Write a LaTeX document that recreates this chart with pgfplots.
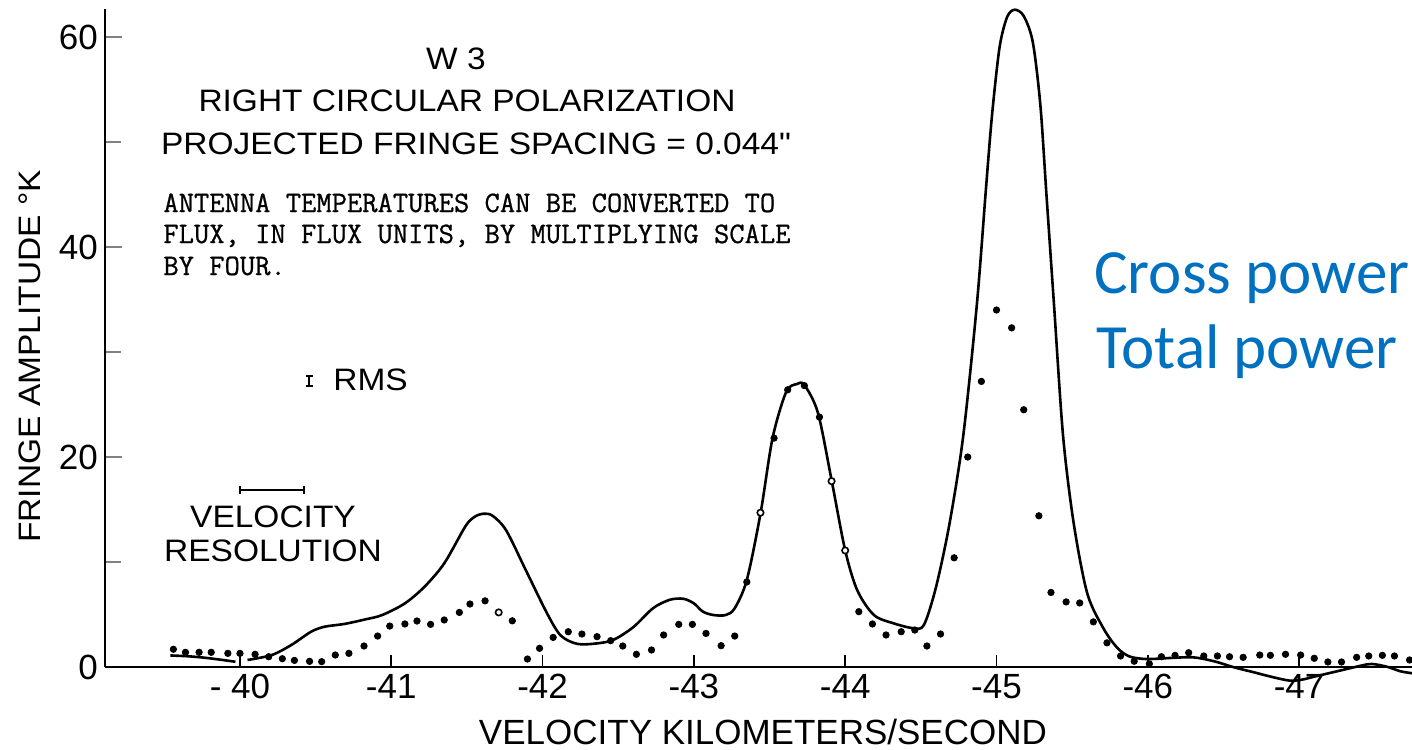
\documentclass[border=0pt]{standalone}
\usepackage{fontspec}
\usepackage{pgfplots}
\pgfplotsset{compat=1.18}

% lettering: a light sans for the drawn labels, Carlito for the slide captions
\newfontfamily\leroy{Liberation Sans}[FakeStretch=1.08]
\newfontfamily\leroyplain{Liberation Sans}
\newfontfamily\slidefont{Carlito}
\newfontfamily\typed{Latin Modern Mono}[FakeBold=0.8]
\definecolor{slideblue}{RGB}{0,112,192}

% cross-power spectrum (solid curve), velocity in km/s, amplitude in K
\pgfplotstableread{
v      T
-40.05 0.67
-40.21 1.14
-40.34 2.10
-40.47 3.36
-40.56 3.84
-40.69 4.10
-40.83 4.54
-40.94 4.95
-41.09 6.06
-41.22 7.65
-41.35 9.87
-41.49 13.4
-41.55 14.3
-41.61 14.6
-41.67 14.4
-41.76 13.0
-41.89 9.20
-42.03 5.10
-42.12 3.00
-42.23 2.20
-42.36 2.25
-42.47 2.60
-42.60 3.80
-42.73 5.60
-42.84 6.40
-42.93 6.50
-43.00 6.06
-43.06 5.27
-43.13 4.95
-43.21 4.95
-43.27 5.60
-43.35 8.30
-43.44 14.6
-43.52 21.8
-43.61 26.2
-43.68 26.95
-43.73 26.86
-43.82 24.2
-43.91 17.8
-44.00 11.1
-44.08 7.30
-44.19 4.95
-44.32 4.16
-44.45 3.70
-44.52 4.00
-44.60 7.60
-44.69 13.7
-44.78 22.0
-44.87 34.5
-44.93 45.5
-44.97 52.5
-45.02 59.0
-45.07 61.9
-45.12 62.6
-45.18 62.0
-45.24 59.5
-45.29 53.5
-45.33 45.0
-45.38 34.5
-45.44 22.0
-45.51 13.7
-45.60 7.00
-45.71 3.60
-45.80 1.80
-45.88 1.00
-45.99 0.76
-46.15 0.86
-46.30 0.92
-46.44 0.54
-46.57 -0.03
-46.70 -0.50
-46.83 -0.98
-46.94 -1.30
-47.02 -1.20
-47.10 -0.92
-47.25 -0.41
-47.41 0.13
-47.48 0.29
-47.58 0.03
-47.67 -0.41
-47.75 -0.60
}\crosspower

% short first piece of the curve, before the break near -40
\pgfplotstableread{
v      T
-39.54 1.10
-39.66 1.02
-39.77 0.88
-39.88 0.68
-39.97 0.50
}\crossstart

% total-power channels (dots)
\pgfplotstableread{
v      T
-39.56 1.69
-39.64 1.40
-39.73 1.40
-39.81 1.40
-39.92 1.30
-40.00 1.30
-40.10 1.21
-40.19 0.98
-40.28 0.79
-40.36 0.63
-40.46 0.54
-40.54 0.51
-40.63 1.14
-40.72 1.30
-40.82 2.00
-40.91 2.95
-40.99 3.90
-41.09 4.10
-41.17 4.38
-41.26 4.06
-41.35 4.48
-41.45 5.20
-41.52 6.00
-41.62 6.30
-41.80 4.40
-41.90 0.76
-41.98 1.78
-42.07 2.82
-42.17 3.36
-42.26 3.14
-42.36 2.89
-42.45 2.51
-42.53 2.00
-42.62 1.21
-42.72 1.62
-42.80 3.05
-42.90 4.06
-42.99 4.06
-43.08 3.20
-43.18 2.03
-43.27 2.95
-43.35 8.10
-43.53 21.8
-43.62 26.4
-43.73 26.8
-43.83 23.8
-44.09 5.27
-44.18 4.10
-44.27 3.05
-44.37 3.36
-44.46 3.52
-44.54 2.00
-44.63 3.14
-44.72 10.4
-44.81 20.0
-44.90 27.2
-45.00 34.0
-45.10 32.3
-45.18 24.5
-45.28 14.4
-45.36 7.10
-45.46 6.20
-45.55 6.10
-45.64 4.30
-45.73 2.30
-45.82 1.05
-45.91 0.55
-46.01 0.30
-46.09 0.98
-46.18 1.11
-46.27 1.36
-46.37 1.05
-46.46 1.05
-46.54 0.98
-46.63 0.92
-46.74 1.14
-46.81 1.11
-46.91 1.21
-47.01 1.14
-47.10 0.83
-47.19 0.48
-47.28 0.48
-47.38 0.92
-47.46 1.05
-47.55 1.11
-47.63 1.05
-47.73 0.67
}\totalpower

% channels drawn as open circles
\pgfplotstableread{
v      T
-41.71 5.20
-43.44 14.7
-43.91 17.7
-44.00 11.1
}\totalopen

\begin{document}
\begin{tikzpicture}
\begin{axis}[
  at={(52.5pt,-333.5pt)}, anchor=south west,
  scale only axis, width=653.5pt, height=329pt,
  x dir=reverse,
  xmin=-47.746, xmax=-39.108, ymin=0, ymax=62.67,
  axis x line*=bottom, axis y line*=left,
  axis line style={line width=1pt},
  clip=false,
  tick align=inside,
  xtick={-40,-41,-42,-43,-44,-45,-46,-47},
  xticklabels={- 40,-41,-42,-43,-44,-45,-46,-47},
  xtick style={draw=none},
  ytick={0,20,40,60}, yticklabels={0,20,40,60},
  minor ytick={10,30,50},
  major tick length=8.5pt, minor tick length=8pt,
  ytick style={line width=1pt},
  minor tick style={line width=1pt},
  /pgf/number format/assume math mode=true,
  tick label style={font=\leroyplain\fontsize{17.5}{20}\selectfont},
  xlabel={VELOCITY KILOMETERS/SECOND},
  xlabel style={at={(axis description cs:0.5034,-0.0985)}, anchor=center,
    inner sep=0pt, font=\leroyplain\fontsize{17.5}{20}\selectfont},
  ylabel={FRINGE AMPLITUDE °K},
  ylabel style={at={(axis description cs:-0.0574,0.472)}, anchor=center,
    font=\leroy\fontsize{15.5}{18}\selectfont},
]
  % short ticks standing on the velocity axis
  \pgfplotsinvokeforeach{-40,-41,-42,-43,-44,-45,-46,-47}{
    \draw[line width=0.9pt] (axis cs:#1,0) -- ++(0pt,6pt);
  }
  \addplot[black, line width=1.3pt, smooth, tension=0.5] table[x=v, y=T] {\crossstart};
  \addplot[black, line width=1.3pt, smooth, tension=0.5] table[x=v, y=T] {\crosspower};
  \addplot[only marks, mark=*, mark size=1.6pt, black] table[x=v, y=T] {\totalpower};
  \addplot[only marks, mark=*, mark size=1.6pt,
    mark options={draw=black, fill=white, line width=0.8pt}] table[x=v, y=T] {\totalopen};
\end{axis}

\begin{scope}[x=0.5pt, y=-0.5pt]
  % heading lettering
  \begin{scope}[every node/.style={inner sep=0pt, font=\leroy\fontsize{15.5}{18}\selectfont}]
    \node[anchor=base] at (456,70) {W 3};
    \node[anchor=base] at (467,112) {RIGHT CIRCULAR POLARIZATION};
    \node[anchor=base] at (476,155) {PROJECTED FRINGE SPACING = 0.044"};
    \node[anchor=base west] at (333,390) {RMS};
    \node[anchor=base] at (273,527) {VELOCITY};
    \node[anchor=base] at (273,561) {RESOLUTION};
  \end{scope}
  % typed note
  \begin{scope}[every node/.style={inner sep=0pt, anchor=base west,
      font=\typed\fontsize{14.85}{17}\selectfont}]
    \node at (163,212) {ANTENNA TEMPERATURES CAN BE CONVERTED TO};
    \node at (163,243) {FLUX, IN FLUX UNITS, BY MULTIPLYING SCALE};
    \node at (163,275) {BY FOUR.};
  \end{scope}
  % rms error bar and velocity-resolution bar
  \draw[line width=1pt] (309,376) -- (309,386) (305.5,376) -- (312.5,376) (305.5,386) -- (312.5,386);
  \draw[line width=1pt] (240,490) -- (304,490) (240,486) -- (240,494) (304,486) -- (304,494);
  % slide captions
  \begin{scope}[every node/.style={inner sep=0pt, anchor=base west, text=slideblue,
      font=\slidefont\fontsize{31.5}{36}\selectfont}]
    \node at (1094,293) {Cross power};
    \node at (1096,368) {Total power};
  \end{scope}
  \pgfresetboundingbox
  \path[use as bounding box] (0,0) rectangle (1412,749);
\end{scope}
\end{tikzpicture}
\end{document}
